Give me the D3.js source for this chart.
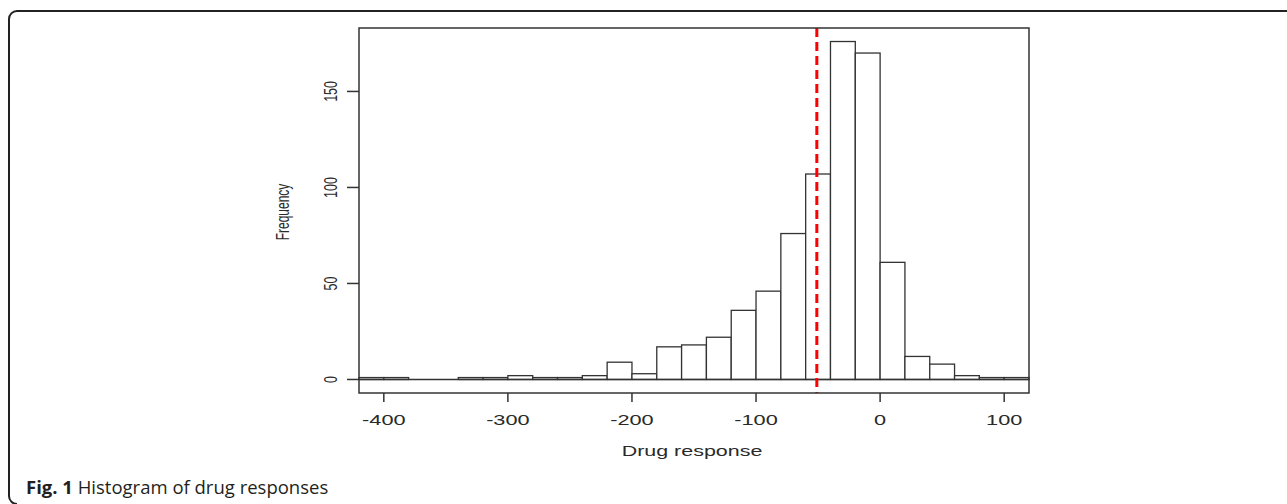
<!DOCTYPE html>
<html>
<head>
<meta charset="utf-8">
<script src="https://cdn.jsdelivr.net/npm/d3@7/dist/d3.min.js"></script>
<style>
  body { margin: 0; background: #fff; }
  text { font-family: "Liberation Sans", Arial, sans-serif; fill: #2a2a2a; }
</style>
</head>
<body>
<div class="chart"></div>
<script>
// histogram bins (left edges, width 20) and counts
var binStarts = [-420,-400,-380,-360,-340,-320,-300,-280,-260,-240,-220,-200,-180,-160,
                 -140,-120,-100,-80,-60,-40,-20,0,20,40,60,80,100];
var counts    = [1,1,0,0,1,1,2,1,1,2,9,3,17,18,22,36,46,76,107,176,170,61,12,8,2,1,1];
var binWidth = 20;
var xTicks = [-400,-300,-200,-100,0,100];
var yTicks = [0,50,100,150];
var meanLine = -51;

var W = 1287, H = 504;
var box = {left: 359, right: 1029, top: 28, bottom: 393};

var svg = d3.select(".chart").append("svg")
    .attr("width", W)
    .attr("height", H);

// journal frame: top rule + left rule with rounded corners
svg.append("path")
    .attr("d", "M" + W + ",11 L17,11 A8,8 0 0 0 9,19 L9,496 A8,8 0 0 0 17,504")
    .attr("fill", "none")
    .attr("stroke", "#222")
    .attr("stroke-width", 2);

var x = d3.scaleLinear()
    .domain([-420, 120])
    .range([box.left, box.right]);

var y = d3.scaleLinear()
    .domain([-7.04, 183.04])
    .range([box.bottom, box.top]);

// bars
svg.selectAll(".bar")
    .data(binStarts)
  .enter()
    .append("rect")
        .attr("class", "bar")
        .attr("x", function(d) { return x(d); })
        .attr("width", function(d) { return x(d + binWidth) - x(d); })
        .attr("y", function(d, i) { return y(counts[i]); })
        .attr("height", function(d, i) { return y(0) - y(counts[i]); })
        .attr("fill", "#fff")
        .attr("stroke", "#333")
        .attr("stroke-width", 1.3);

// empty bins still leave their bottom edge
svg.append("line")
    .attr("x1", x(binStarts[0]))
    .attr("x2", x(binStarts[binStarts.length - 1] + binWidth))
    .attr("y1", y(0)).attr("y2", y(0))
    .attr("stroke", "#333")
    .attr("stroke-width", 1.3);

// red dashed line
svg.append("line")
    .attr("x1", x(meanLine)).attr("x2", x(meanLine))
    .attr("y1", box.top).attr("y2", box.bottom)
    .attr("stroke", "#ff0000")
    .attr("stroke-width", 3)
    .attr("stroke-dasharray", "9,5");

// plot box
svg.append("rect")
    .attr("x", box.left).attr("y", box.top)
    .attr("width", box.right - box.left)
    .attr("height", box.bottom - box.top)
    .attr("fill", "none")
    .attr("stroke", "#333")
    .attr("stroke-width", 1.5);

// x axis ticks + labels
svg.selectAll(".xtick")
    .data(xTicks)
  .enter()
    .append("line")
        .attr("class", "xtick")
        .attr("x1", function(d) { return x(d); })
        .attr("x2", function(d) { return x(d); })
        .attr("y1", box.bottom)
        .attr("y2", box.bottom + 9)
        .attr("stroke", "#333")
        .attr("stroke-width", 1.5);

svg.selectAll(".xlab")
    .data(xTicks)
  .enter()
    .append("text")
        .attr("class", "xlab")
        .attr("text-anchor", "middle")
        .style("font-size", "15px")
        .attr("transform", function(d) {
          return "translate(" + x(d) + "," + 425 + ") scale(1.45,1)";
        })
        .text(function(d) { return d; });

// y axis ticks + labels
svg.selectAll(".ytick")
    .data(yTicks)
  .enter()
    .append("line")
        .attr("class", "ytick")
        .attr("x1", box.left - 12)
        .attr("x2", box.left)
        .attr("y1", function(d) { return y(d); })
        .attr("y2", function(d) { return y(d); })
        .attr("stroke", "#333")
        .attr("stroke-width", 1.5);

svg.selectAll(".ylab")
    .data(yTicks)
  .enter()
    .append("text")
        .attr("class", "ylab")
        .attr("text-anchor", "middle")
        .style("font-size", "12.5px")
        .attr("transform", function(d) {
          return "translate(" + 337 + "," + y(d) + ") scale(1.5,1) rotate(-90)";
        })
        .text(function(d) { return d; });

// axis titles
svg.append("text")
    .attr("text-anchor", "middle")
    .style("font-size", "15px")
    .attr("transform", "translate(692,456) scale(1.43,1)")
    .text("Drug response");

svg.append("text")
    .attr("text-anchor", "middle")
    .style("font-size", "12px")
    .attr("transform", "translate(289,212) scale(1.55,1) rotate(-90)")
    .text("Frequency");

// caption
var cap = svg.append("text")
    .attr("x", 26)
    .attr("y", 494)
    .style("font-family", "'Open Sans', sans-serif")
    .style("font-size", "18.5px")
    .style("fill", "#231f20");
cap.append("tspan").style("font-weight", "bold").text("Fig. 1");
cap.append("tspan").text(" Histogram of drug responses");
</script>
</body>
</html>
